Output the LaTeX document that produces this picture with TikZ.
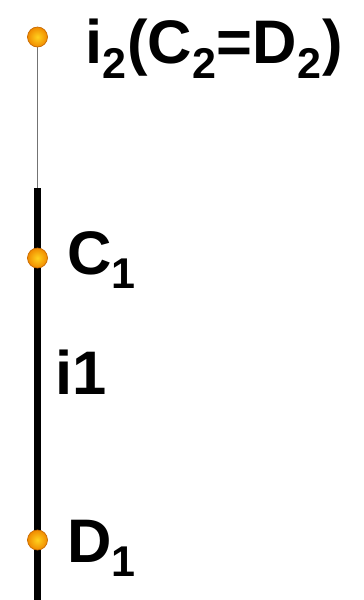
\documentclass[tikz,border=0pt]{standalone}
\usepackage{fontspec}
\setmainfont{Liberation Sans}
\usepackage{tikz}
\usetikzlibrary{positioning,calc}
\definecolor{DotOrange}{HTML}{F08A00}
\definecolor{DotYellow}{HTML}{FFD21E}
\definecolor{DotEdge}{HTML}{C86A00}

\begin{document}
\begin{tikzpicture}[x=0.02cm,y=-0.02cm,
  dot/.style={circle,inner sep=0pt,minimum size=0.4cm,draw=DotEdge,thin,
    inner color=DotYellow,outer color=DotOrange},
  lbl/.style={anchor=base west,inner sep=0pt,font=\fontsize{35}{40}\selectfont\bfseries}]
\useasboundingbox[fill=white] (0,0) rectangle (363,600);
\coordinate (top) at (37.5,37);
\coordinate (mid) at (37.5,188);
\coordinate (bot) at (37.5,600);
\draw[gray!90!black,line width=0.9pt] (top) -- (mid);
\draw[black,line width=4pt] (mid) -- (bot);
\node[dot] (i2) at (top) {};
\node[dot] (c1) at (37.5,258) {};
\node[dot] (d1) at (37.5,540) {};
\node[lbl] (li2) at (85,63) {i\textsubscript{2}(C\textsubscript{2}=D\textsubscript{2})};
\node[lbl] (lc1) at (67,274) {C\textsubscript{1}};
\node[lbl] (li1) at (55,394) {i1};
\node[lbl] (ld1) at (67,562) {D\textsubscript{1}};
\end{tikzpicture}
\end{document}
